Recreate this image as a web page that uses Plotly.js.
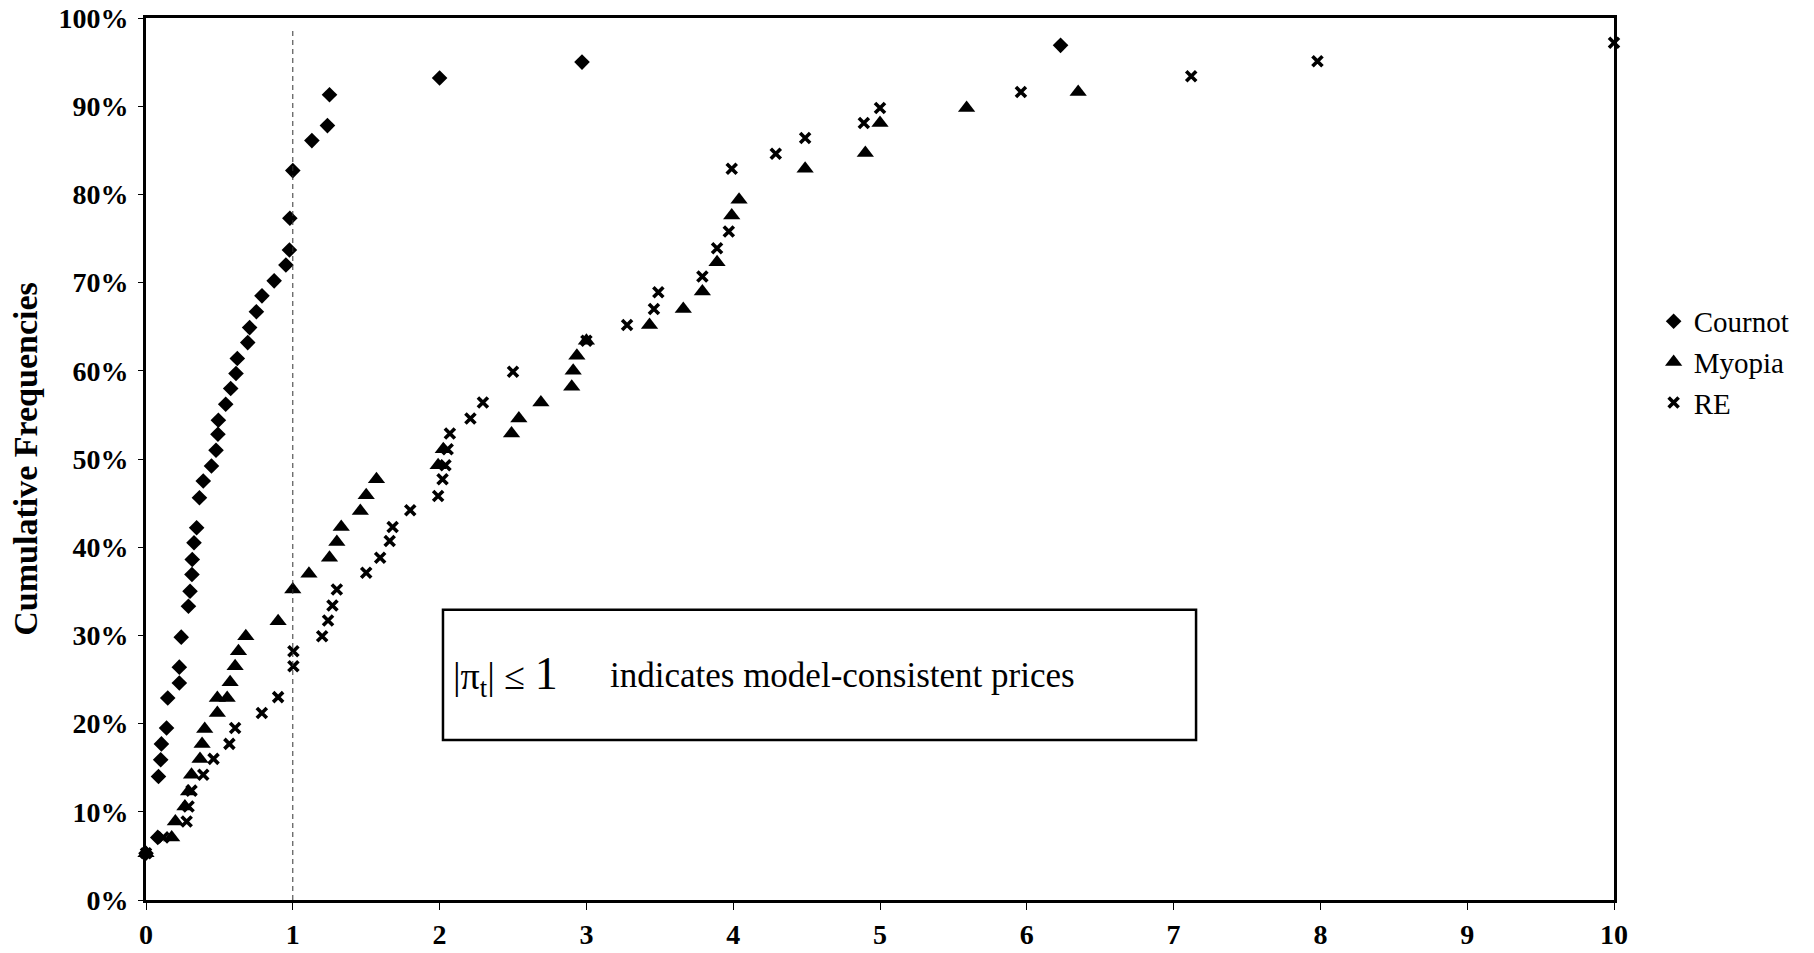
<!DOCTYPE html>
<html><head><meta charset="utf-8">
<script src="https://cdn.plot.ly/plotly-3.0.1.min.js"></script>
<style>html,body{margin:0;padding:0;background:#fff}#chart{width:1814px;height:953px}</style>
</head><body><div id="chart"></div>
<script>
const seriesNames = ['Cournot', 'Myopia', 'RE'];
const xTickVals = [0,1,2,3,4,5,6,7,8,9,10];
const yTickVals = [0,10,20,30,40,50,60,70,80,90,100];

const cournotX = [0,0.08,0.085,0.10,0.105,0.14,0.148,0.227,0.227,0.24,0.289,0.30,0.313,0.315,0.327,0.345,0.364,0.39,0.446,0.477,0.49,0.493,0.543,0.577,0.613,0.622,0.693,0.706,0.752,0.79,0.873,0.953,0.977,0.98,1.0,1.13,1.236,1.25,2.0,2.97,6.23];
const cournotY = [5.3,7.1,14.0,15.9,17.7,19.5,22.9,24.6,26.4,29.8,33.3,35.0,36.9,38.6,40.5,42.2,45.6,47.5,49.2,51.0,52.8,54.4,56.2,58.0,59.7,61.4,63.2,64.9,66.7,68.5,70.2,72.0,73.7,77.3,82.7,86.1,87.8,91.3,93.2,95.0,96.9];

const myopiaX = [0,0.175,0.20,0.265,0.29,0.31,0.368,0.382,0.40,0.486,0.486,0.553,0.573,0.607,0.63,0.68,0.90,1.0,1.11,1.25,1.30,1.33,1.46,1.50,1.57,1.99,2.025,2.49,2.54,2.69,2.90,2.91,2.935,3.0,3.43,3.66,3.79,3.89,3.99,4.04,4.49,4.90,5.0,5.59,6.35];
const myopiaY = [5.3,7.1,8.9,10.6,12.3,14.2,16.0,17.7,19.4,21.2,22.9,22.9,24.7,26.5,28.2,29.9,31.6,35.2,37.0,38.8,40.6,42.3,44.1,45.9,47.7,49.3,51.1,52.9,54.6,56.4,58.2,60.0,61.7,63.4,65.2,67.0,69.0,72.3,77.6,79.4,82.9,84.7,88.1,89.8,91.6];

const reX = [0,0.118,0.277,0.29,0.31,0.39,0.46,0.568,0.607,0.789,0.90,1.004,1.004,1.20,1.24,1.27,1.30,1.50,1.595,1.66,1.68,1.80,1.99,2.02,2.04,2.055,2.07,2.21,2.295,2.50,3.0,3.277,3.46,3.49,3.79,3.89,3.97,3.99,4.29,4.49,4.89,5.0,5.96,7.12,7.98,10.0];
const reY = [5.3,7.1,8.9,10.6,12.4,14.2,16.0,17.7,19.5,21.2,23.0,26.5,28.2,29.9,31.7,33.4,35.2,37.1,38.8,40.7,42.3,44.2,45.8,47.7,49.3,51.1,52.9,54.6,56.4,59.9,63.4,65.2,67.0,68.9,70.7,73.9,75.8,82.9,84.6,86.4,88.1,89.8,91.6,93.4,95.1,97.2];

const serif = '"Liberation Serif", "DejaVu Serif", serif';

const traces = [
  {x: cournotX, y: cournotY, name: seriesNames[0], type: 'scatter', mode: 'markers', cliponaxis: false,
   marker: {symbol: 'diamond', size: 12, color: '#000'}},
  {x: myopiaX, y: myopiaY, name: seriesNames[1], type: 'scatter', mode: 'markers', cliponaxis: false,
   marker: {symbol: 'triangle-up', size: 15, color: '#000'}},
  {x: reX, y: reY, name: seriesNames[2], type: 'scatter', mode: 'markers', cliponaxis: false,
   marker: {symbol: 'x-thin', size: 10, color: '#000', line: {width: 3.6, color: '#000'}}}
];

const layout = {
  width: 1814, height: 953,
  paper_bgcolor: '#fff', plot_bgcolor: '#fff',
  margin: {l: 146, r: 200, t: 18, b: 53},
  showlegend: true,
  legend: {x: 1.027, y: 0.685, xanchor: 'left', yanchor: 'top',
           font: {family: serif, size: 29, color: '#000'}, bgcolor: 'rgba(0,0,0,0)'},
  xaxis: {range: [0, 10], tickvals: xTickVals, ticktext: xTickVals.map(String),
          showgrid: false, zeroline: false, showline: true, mirror: true,
          linewidth: 3, linecolor: '#000', ticks: 'outside', ticklen: 7, tickwidth: 1, tickcolor: '#000',
          tickfont: {family: serif, size: 28, color: '#000', weight: 'bold'}},
  xaxis2: {overlaying: 'x', matches: 'x', anchor: 'y', side: 'bottom', range: [0, 10], tickvals: xTickVals,
           showticklabels: false, showgrid: false, zeroline: false, showline: false,
           ticks: 'inside', ticklen: 7, tickwidth: 1, tickcolor: '#000'},
  yaxis: {range: [0, 100], tickvals: yTickVals, ticktext: yTickVals.map(v => v + '%'),
          showgrid: false, zeroline: false, showline: true, mirror: true,
          linewidth: 3, linecolor: '#000', ticks: 'outside', ticklen: 5, tickwidth: 1, tickcolor: '#000',
          ticklabelstandoff: 4,
          tickfont: {family: serif, size: 28, color: '#000', weight: 'bold'},
          title: {text: 'Cumulative Frequencies', standoff: 11,
                  font: {family: serif, size: 34, color: '#000', weight: 'bold'}}},
  shapes: [
    {type: 'line', xref: 'x', yref: 'y', x0: 1, x1: 1, y0: 0, y1: 98.8,
     line: {color: '#333', width: 1, dash: '5px,4px'}},
    {type: 'rect', xref: 'x', yref: 'y', x0: 2.023, x1: 7.153, y0: 18.15, y1: 32.9,
     line: {color: '#000', width: 2.5}, fillcolor: 'rgba(0,0,0,0)'}
  ],
  annotations: [
    {xref: 'x', yref: 'y', x: 2.075, y: 25.5, xanchor: 'left', yanchor: 'middle', showarrow: false,
     text: '|π<sub>t</sub>| ≤ <span style="font-size:46px">1</span>',
     font: {family: serif, size: 38, color: '#000'}},
    {xref: 'x', yref: 'y', x: 3.147, y: 25.5, xanchor: 'left', yanchor: 'middle', showarrow: false,
     text: 'indicates model-consistent prices',
     font: {family: serif, size: 35, color: '#000'}}
  ]
};

Plotly.newPlot('chart', traces, layout, {displayModeBar: false, responsive: false});
</script>
</body></html>
